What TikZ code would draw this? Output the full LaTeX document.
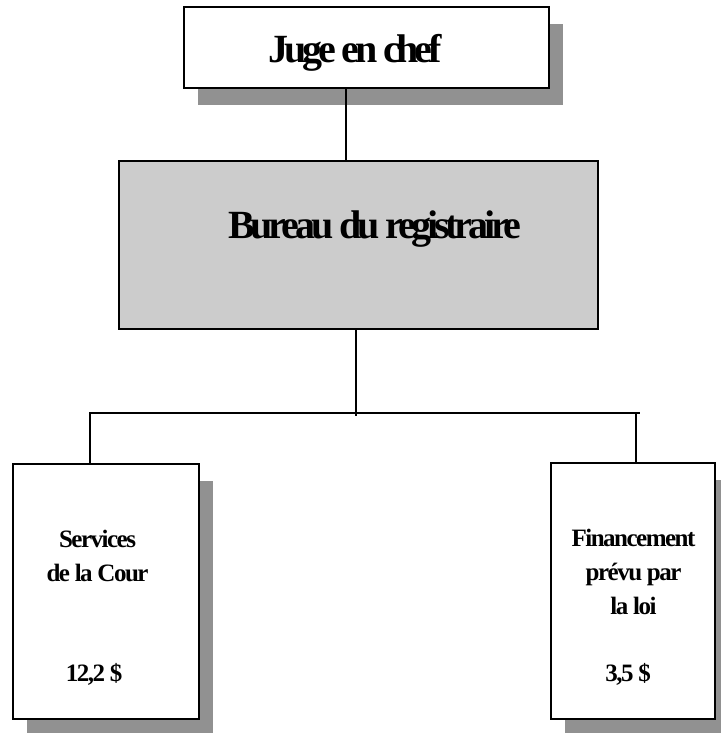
\documentclass[tikz,border=0pt]{standalone}
\usepackage{fontspec}
\setmainfont{Liberation Serif}
\usetikzlibrary{shadows, positioning}
\definecolor{shadowgray}{HTML}{919191}
\definecolor{officegray}{HTML}{CCCCCC}

\begin{document}
\begin{tikzpicture}[x=1pt,y=-1pt,line width=1.8pt]

	\tikzset{node box/.style={rectangle, draw=black, line width=2pt,
			fill=white, inner sep=0pt,
			drop shadow={shadow xshift=14pt, shadow yshift=-17pt,
				fill=shadowgray, opacity=1}}}
	\tikzset{node office/.style={rectangle, draw=black, line width=2pt,
			fill=officegray, inner sep=0pt}}
	\tikzset{txt big/.style={inner sep=0pt, anchor=base,
			font=\bfseries\fontsize{40}{44}\selectfont\addfontfeature{LetterSpace=-10.5}}}
	\tikzset{txt small/.style={inner sep=0pt, anchor=base, align=center,
			font=\bfseries\fontsize{25}{34}\selectfont\addfontfeature{LetterSpace=-6}}}

	\path[use as bounding box, fill=white] (0,0) rectangle (720,733);

	\node[node box, minimum width=365pt, minimum height=81pt] (juge) at (366.5,47.5) {};
	\node[node office, minimum width=479pt, minimum height=168pt] (bureau) at (358.5,245) {};
	\node[node box, minimum width=186pt, minimum height=255pt] (serv) at (106,591.5) {};
	\node[node box, minimum width=164pt, minimum height=256pt] (fin) at (633,591) {};

	\node[txt big] (jugeT) at ([xshift=-11.5pt, yshift=-15.5pt]juge.center) {Juge en chef};
	\node[txt big] (bureauT) at ([xshift=16.5pt, yshift=7pt]bureau.center) {Bureau du registraire};
	\node[txt small] (servT) at ([xshift=-8.5pt, yshift=10.5pt]serv.center) {Services\\de la Cour};
	\node[txt small] (servM) at ([xshift=-12pt, yshift=-89.5pt]serv.center) {12,2 \$};
	\node[txt small] (finT) at ([xshift=0.5pt, yshift=-23pt]fin.center) {Financement\\prévu par\\la loi};
	\node[txt small] (finM) at ([xshift=-5pt, yshift=-90pt]fin.center) {3,5 \$};

	% connectors
	\coordinate[below=83pt of bureau.south, xshift=-2.5pt] (split);
	\draw ([xshift=-12.5pt]bureau.north) -- ([xshift=-12.5pt]bureau.north |- juge.south);
	\draw (split |- bureau.south) -- ([yshift=-3pt]split);
	\draw ([xshift=-16pt]serv.north) |- ([xshift=7pt]split -| fin.north);
	\draw ([xshift=3pt]fin.north) -- ([xshift=3pt]fin.north |- split);
\end{tikzpicture}
\end{document}
